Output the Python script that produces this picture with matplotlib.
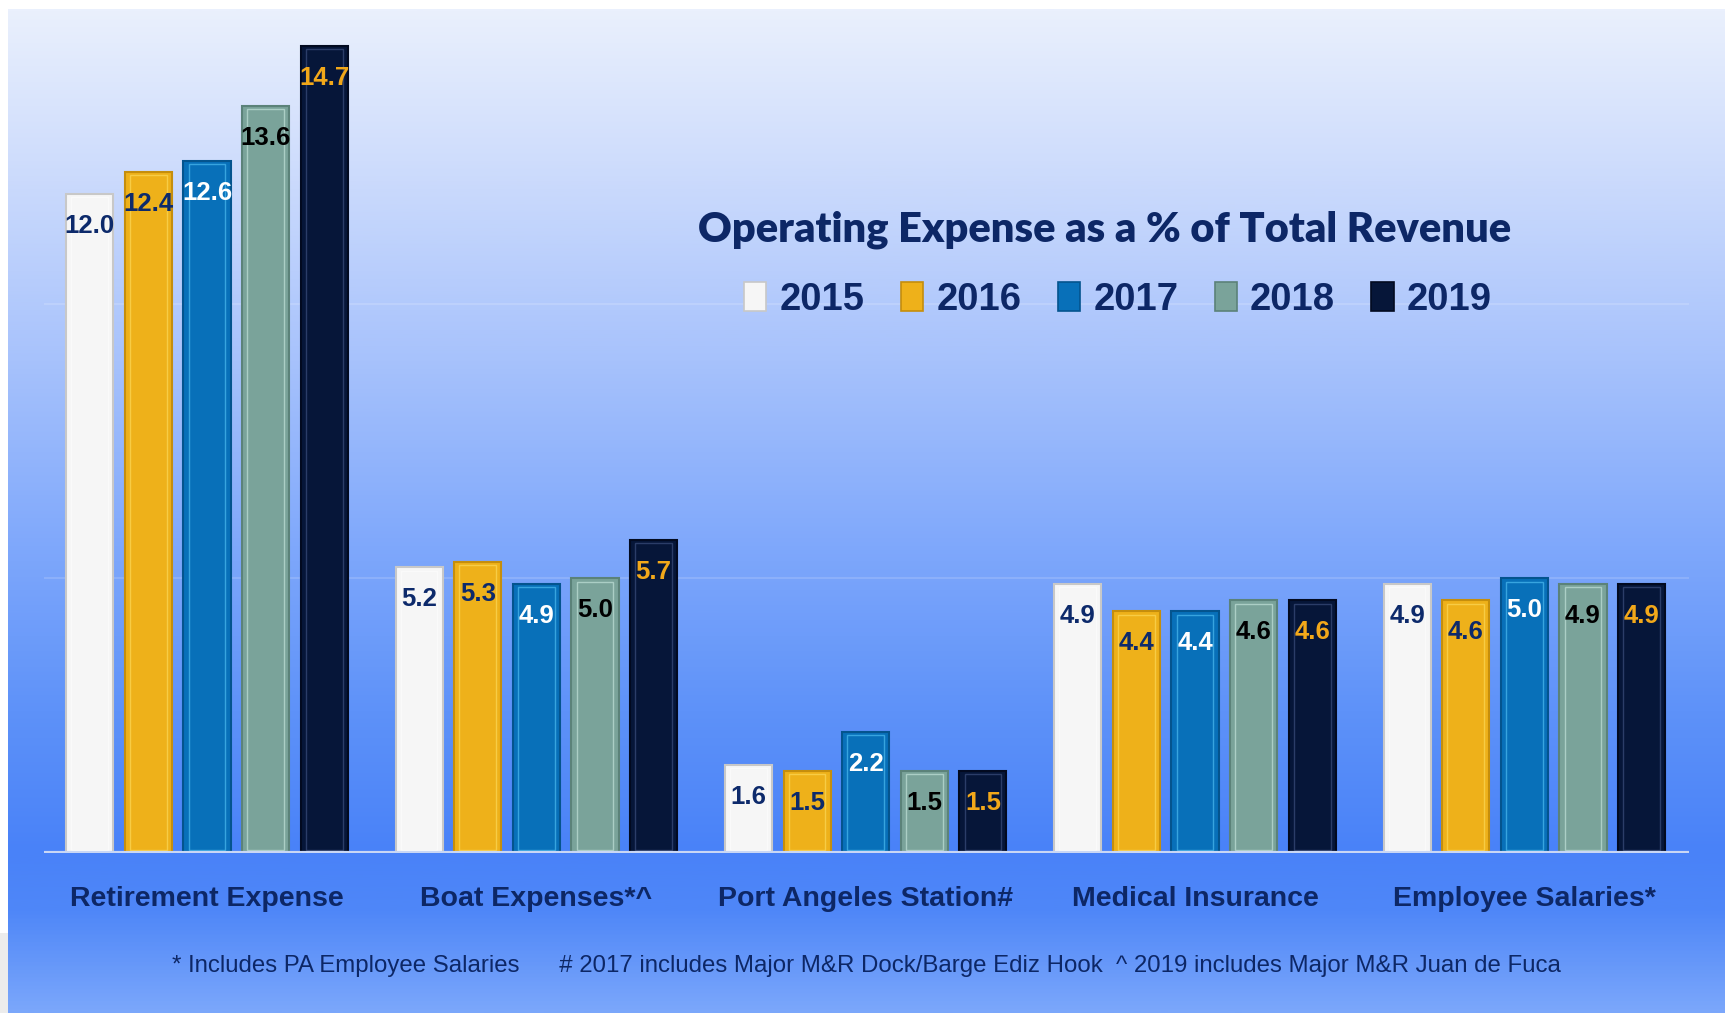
import matplotlib
matplotlib.use('Agg')
import matplotlib.pyplot as plt
import numpy as np
from matplotlib.colors import LinearSegmentedColormap
from matplotlib.patches import Patch, Rectangle

categories = ['Retirement Expense', 'Boat Expenses*^', 'Port Angeles Station#',
              'Medical Insurance', 'Employee Salaries*']
years = ['2015', '2016', '2017', '2018', '2019']
v2015 = [12.0, 5.2, 1.6, 4.9, 4.9]
v2016 = [12.4, 5.3, 1.5, 4.4, 4.6]
v2017 = [12.6, 4.9, 2.2, 4.4, 5.0]
v2018 = [13.6, 5.0, 1.5, 4.6, 4.9]
v2019 = [14.7, 5.7, 1.5, 4.6, 4.9]
series = [v2015, v2016, v2017, v2018, v2019]

title = 'Operating Expense as a % of Total Revenue'
footnote = ('* Includes PA Employee Salaries      # 2017 includes Major M&R Dock/Barge Ediz Hook'
            '  ^ 2019 includes Major M&R Juan de Fuca')

colors = ['#f6f6f6', '#eeb11a', '#0870b9', '#7aa39a', '#061639']
edge_dark = ['#c8c8c8', '#c58e0c', '#04548e', '#5b8279', '#020a20']
edge_light = ['#ffffff', '#ffe36a', '#5fd0ff', '#d4f2ea', '#4a5e90']
label_colors = ['#0d2a6b', '#0d2a6b', '#ffffff', '#000000', '#f2a81a']
navy = '#0d2766'
narrow = ['Liberation Sans Narrow', 'Liberation Sans', 'DejaVu Sans']

W, H = 1725, 1013
fig = plt.figure(figsize=(W / 100, H / 100), dpi=100, facecolor='white')

# background gradient
bg = fig.add_axes([8 / W, 0, 1 - 8 / W, 1 - 9 / H], zorder=-5)
stops = [(0.0, '#7ba7fb'), (0.10, '#4f87f8'), (0.16, '#4982f8'), (0.30, '#5e92f9'),
         (0.45, '#7ca6fb'), (0.65, '#a7c2fc'), (0.85, '#cfddfc'), (1.0, '#eaf0fd')]
cmap = LinearSegmentedColormap.from_list('bg', stops)
grad = np.linspace(0, 1, 512).reshape(-1, 1)
bg.imshow(grad, aspect='auto', cmap=cmap, origin='lower', extent=[0, 1, 0, 1])
bg.set_axis_off()
fig.patches.append(Rectangle((0, 0), 8 / W, 80 / H, transform=fig.transFigure,
                             facecolor='#ececec', edgecolor='none', zorder=-4))

ax = fig.add_axes([44 / W, 1 - 853 / H, (1689 - 44) / W, (853 - 11) / H])
ax.patch.set_alpha(0)
ax.set_xlim(-0.495, 4.5)
ax.set_ylim(0, 15.33)

n = len(years)
step = 0.178
bw = 0.143
x = np.arange(len(categories))
for i, (vals, c) in enumerate(zip(series, colors)):
    xs = x + (i - (n - 1) / 2) * step
    ax.bar(xs, vals, width=bw, color=c, edgecolor=edge_dark[i], linewidth=1.5, zorder=3)
    ax.bar(xs, [v - 0.12 for v in vals], bottom=0.06, width=bw * 0.78, fill=False,
           edgecolor=edge_light[i], linewidth=1.0, alpha=0.55, zorder=4)
    for xi, v in zip(xs, vals):
        ax.annotate(f'{v:.1f}', (xi, v), xytext=(0, -23), textcoords='offset points',
                    ha='center', va='center', fontsize=18.5, fontweight='bold',
                    color=label_colors[i], family=narrow, zorder=5)

for gy in [5, 10]:
    ax.axhline(gy, color='#ffffff', alpha=0.18, lw=1.2, zorder=1)
ax.axhline(0, color='#c9d7f5', lw=3, zorder=6)

for s in ax.spines.values():
    s.set_visible(False)
ax.set_yticks([])
ax.set_xticks(x)
ax.set_xticklabels(categories, fontsize=20.5, fontweight='bold', color=navy, family=narrow)
ax.tick_params(axis='x', length=0, pad=24)

fig.text(1105 / W, 1 - 230 / H, title, ha='center', va='center', fontsize=30,
         fontweight='heavy', color=navy, family=['Lato', 'DejaVu Sans'])

handles = [Patch(facecolor=c, edgecolor=e, linewidth=1.2) for c, e in zip(colors, edge_dark)]
leg = fig.legend(handles, years, loc='center', bbox_to_anchor=(1118 / W, 1 - 300 / H),
                 ncol=5, frameon=False, handlelength=0.58, handleheight=0.8,
                 handletextpad=0.35, columnspacing=0.95,
                 prop={'family': narrow, 'weight': 'bold', 'size': 27.5})
for t in leg.get_texts():
    t.set_color(navy)

fig.text(866 / W, 1 - 966 / H, footnote, ha='center', va='center', fontsize=17.3,
         color=navy, family=narrow)

fig.savefig('out.png', dpi=100, facecolor='white')
